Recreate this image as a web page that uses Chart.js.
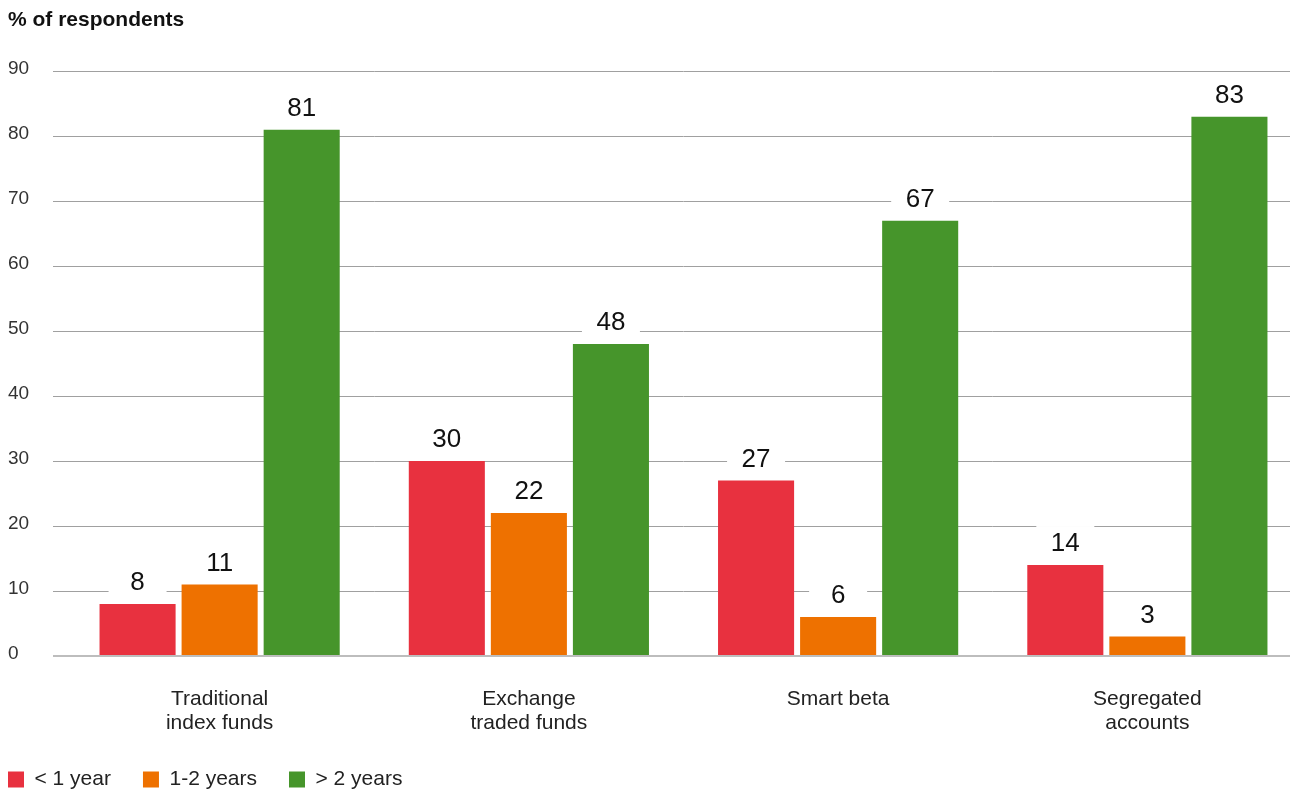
<!DOCTYPE html>
<html>
<head>
<meta charset="utf-8">
<script src="https://cdn.jsdelivr.net/npm/chart.js@4"></script>
<style>
  html, body { margin: 0; padding: 0; background: #fff; overflow: hidden; }
  #wrap { width: 1302px; height: 791px; }
</style>
</head>
<body>
<div id="wrap"><canvas id="myChart"></canvas></div>
<script>
// data
var categories = [["Traditional", "index funds"], ["Exchange", "traded funds"], "Smart beta", ["Segregated", "accounts"]];
var seriesNames = ["< 1 year", "1-2 years", "> 2 years"];
var lessThan1 = [8, 30, 27, 14];
var oneToTwo = [11, 22, 6, 3];
var moreThan2 = [81, 48, 67, 83];
var yTicks = [0, 10, 20, 30, 40, 50, 60, 70, 80, 90];

var barColors = ["#e8313f", "#ee7100", "#46952b"];
var fontFamily = "'Liberation Sans', Arial, sans-serif";

// value labels on a white box, so the gridlines get cut behind them
var valueLabels = {
    id: "valueLabels",
    afterDatasetsDraw: function (chart) {
        var ctx = chart.ctx;
        ctx.save();
        ctx.font = "26px " + fontFamily;
        ctx.textAlign = "center";
        ctx.textBaseline = "middle";
        chart.data.datasets.forEach(function (ds, i) {
            var meta = chart.getDatasetMeta(i);
            meta.data.forEach(function (bar, j) {
                var cy = bar.y - 22;
                ctx.fillStyle = "#ffffff";
                ctx.fillRect(bar.x - 29, cy - 17, 58, 34);
                ctx.fillStyle = "#111111";
                ctx.fillText(ds.data[j], bar.x, cy + 1);
            });
        });
        ctx.restore();
    }
};

// legend sits flush left and a bit lower than chart.js puts it
var legendShift = {
    id: "legendShift",
    afterLayout: function (chart) {
        chart.legend.left -= 32;
        chart.legend.top += 1;
    }
};

new Chart("myChart", {
    type: "bar",
    data: {
        labels: categories,
        datasets: [
            { label: seriesNames[0], data: lessThan1, backgroundColor: barColors[0] },
            { label: seriesNames[1], data: oneToTwo, backgroundColor: barColors[1] },
            { label: seriesNames[2], data: moreThan2, backgroundColor: barColors[2] }
        ]
    },
    options: {
        responsive: true,
        maintainAspectRatio: false,
        animation: false,
        categoryPercentage: 0.796,
        barPercentage: 0.927,
        layout: { padding: { left: 8, right: 0, top: 0, bottom: -8 } },
        plugins: {
            title: {
                display: true,
                text: "% of respondents",
                align: "start",
                color: "#111",
                font: { family: fontFamily, size: 21, weight: "bold" },
                padding: { top: 8, bottom: 38 }
            },
            legend: {
                position: "bottom",
                align: "start",
                labels: {
                    boxWidth: 16,
                    boxHeight: 16,
                    padding: 32,
                    color: "#222",
                    font: { family: fontFamily, size: 21 }
                }
            },
            tooltip: { enabled: false }
        },
        scales: {
            x: {
                afterFit: function (scale) { scale.height = 80; },
                grid: { display: false },
                border: { display: false },
                ticks: {
                    color: "#222",
                    padding: 23,
                    font: { family: fontFamily, size: 21, lineHeight: 1.14 }
                }
            },
            y: {
                min: 0,
                max: 90,
                afterBuildTicks: function (scale) {
                    scale.ticks = yTicks.map(function (v) { return { value: v }; });
                },
                afterFit: function (scale) { scale.width = 57; },
                border: { display: false },
                grid: {
                    color: function (c) { return c.tick && c.tick.value === 0 ? "#bdbdbd" : "#a0a0a0"; },
                    lineWidth: function (c) { return c.tick && c.tick.value === 0 ? 2 : 1; },
                    tickLength: 12
                },
                ticks: {
                    color: "#333",
                    crossAlign: "far",
                    padding: 10,
                    labelOffset: -2,
                    font: { family: fontFamily, size: 19 }
                }
            }
        }
    },
    plugins: [valueLabels, legendShift]
});
</script>
</body>
</html>
